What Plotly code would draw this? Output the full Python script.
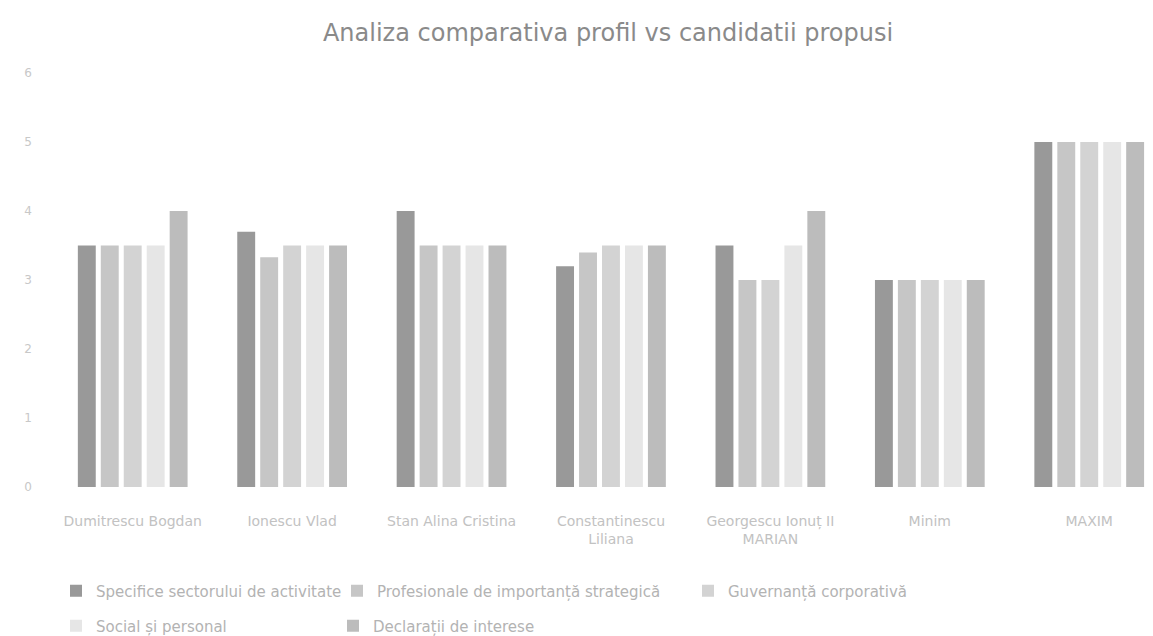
import plotly.graph_objects as go

categories = ["Dumitrescu Bogdan", "Ionescu Vlad", "Stan Alina Cristina",
              "Constantinescu<br>Liliana", "Georgescu Ionuț II<br>MARIAN", "Minim", "MAXIM"]
series_names = ["Specifice sectorului de activitate",
                "Profesionale de importanță strategică",
                "Guvernanță corporativă",
                "Social și personal",
                "Declarații de interese"]
specifice = [3.5, 3.7, 4.0, 3.2, 3.5, 3.0, 5.0]
profesionale = [3.5, 3.33, 3.5, 3.4, 3.0, 3.0, 5.0]
guvernanta = [3.5, 3.5, 3.5, 3.5, 3.0, 3.0, 5.0]
social = [3.5, 3.5, 3.5, 3.5, 3.5, 3.0, 5.0]
declaratii = [4.0, 3.5, 3.5, 3.5, 4.0, 3.0, 5.0]
y_ticks = [0, 1, 2, 3, 4, 5, 6]

series_values = [specifice, profesionale, guvernanta, social, declaratii]
colors = ["#999999", "#c6c6c6", "#d3d3d3", "#e6e6e6", "#bcbcbc"]
legend_ids = ["legend", "legend2", "legend3", "legend4", "legend5"]

W, H = 1153, 636
L, R, T, B = 53, 0, 73, 149

fig = go.Figure()
for name, vals, col, lg in zip(series_names, series_values, colors, legend_ids):
    fig.add_trace(go.Bar(x=categories, y=vals, name=name, marker_color=col,
                         marker_line_width=0, legend=lg, showlegend=True))

leg_font = dict(family="DejaVu Sans, sans-serif", size=15, color="#b3b3b3")
legend_pos = {
    "legend": (56, 591),
    "legend2": (337, 591),
    "legend3": (688, 591),
    "legend4": (56, 626),
    "legend5": (333, 626),
}
layout_legends = {}
for k, (lx, ly) in legend_pos.items():
    layout_legends[k] = dict(x=lx / W, y=1 - ly / H, xanchor="left", yanchor="middle",
                             xref="container", yref="container", orientation="v",
                             font=leg_font, bgcolor="rgba(0,0,0,0)",
                             itemwidth=30, visible=True)

fig.update_layout(
    width=W, height=H,
    showlegend=True,
    margin=dict(l=L, r=R, t=T, b=B, autoexpand=False),
    paper_bgcolor="white", plot_bgcolor="white",
    barmode="group", bargap=0.28, bargroupgap=0.22,
    title=dict(text="Analiza comparativa profil vs candidatii propusi",
               x=608 / W, xanchor="center", y=1 - 33 / H, yanchor="middle",
               font=dict(family="DejaVu Sans, sans-serif", size=24, color="#8a8a8a")),
    xaxis=dict(range=[-0.5, 6.4], showgrid=False, zeroline=False, showline=False,
               ticks="", ticklabelstandoff=24,
               tickfont=dict(family="DejaVu Sans, sans-serif", size=14, color="#c2c2c2")),
    yaxis=dict(range=[0, 6], tickvals=y_ticks, showgrid=False, zeroline=False,
               showline=False, ticks="", ticklabelstandoff=20,
               tickfont=dict(family="DejaVu Sans, sans-serif", size=12, color="#c8c8c8")),
    **layout_legends,
)

fig.write_html("out.html", config={"displayModeBar": False},
               post_script="document.body.style.margin='0';document.body.style.overflow='hidden';")
